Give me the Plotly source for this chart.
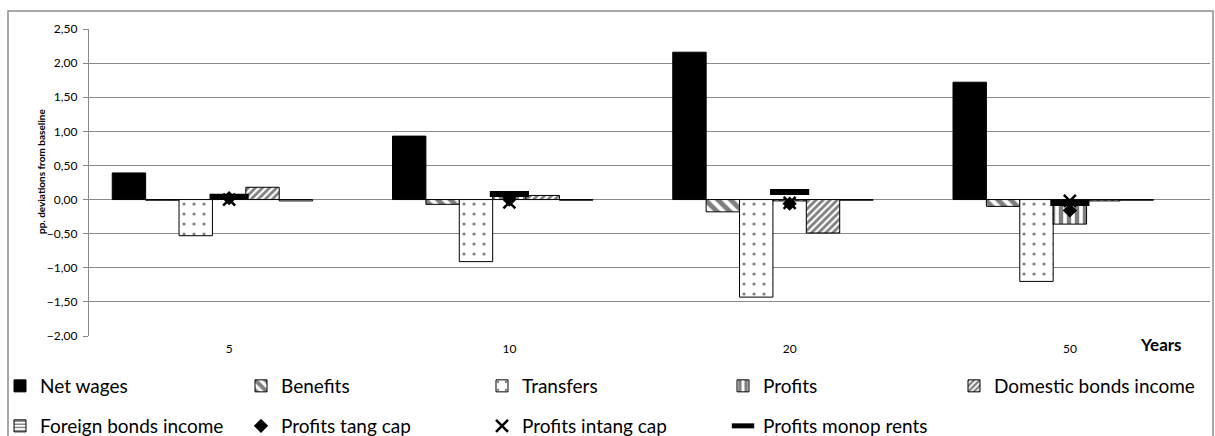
import plotly.graph_objects as go

# ---- data ----
years = ["5", "10", "20", "50"]
net_wages = [0.39, 0.93, 2.16, 1.72]
benefits = [-0.01, -0.07, -0.18, -0.10]
transfers = [-0.53, -0.91, -1.43, -1.20]
profits = [0.05, 0.10, -0.02, -0.36]
domestic_bonds = [0.18, 0.06, -0.49, -0.02]
foreign_bonds = [-0.02, -0.01, -0.01, -0.01]
empty_slot = [None, None, None, None]
profits_tang = [0.02, 0.00, -0.06, -0.16]
profits_intang = [0.00, -0.04, -0.05, -0.02]
profits_monop = [0.04, 0.08, 0.11, -0.05]

y_ticks = [2.5, 2.0, 1.5, 1.0, 0.5, 0.0, -0.5, -1.0, -1.5, -2.0]

# ---- geometry helpers (pixel layout of the 1215x436 canvas) ----
W, H = 1215, 436
L, R, T, B = 89, 5, 29, 100
PW, PH = W - L - R, H - T - B


def xp(px):
    return (px - L) / PW


def yp(py):
    return (H - B - py) / PH


def xc(px):
    return px / W


def yc(py):
    return 1 - py / H


FONT = "Lato"
GRID = "#8a8a8a"

fig = go.Figure()


def bar(name, vals, pattern=None, fill="white", legend="legend", show=True):
    mk = dict(color=fill, line=dict(color="black", width=1))
    if pattern:
        mk["pattern"] = dict(shape=pattern[0], size=pattern[1], solidity=pattern[2],
                             fgcolor="black", bgcolor="white", fillmode="overlay")
    fig.add_trace(go.Bar(x=years, y=vals, name=name, marker=mk,
                         legend=legend, showlegend=show))


bar("Net wages", net_wages, fill="black")
bar("Benefits", benefits, pattern=("\\", 9, 0.55))
bar("Transfers", transfers, pattern=(".", 10, 0.08))
bar("Profits", profits, pattern=("|", 8, 0.55))
bar("Domestic bonds income", domestic_bonds, pattern=("/", 5, 0.55), legend="legend3")
bar("Foreign bonds income", foreign_bonds, pattern=("-", 4, 0.45), legend="legend2")
bar("", empty_slot, show=False)

fig.add_trace(go.Scatter(x=years, y=profits_tang, mode="markers", name="Profits tang cap",
                         marker=dict(symbol="diamond", size=11, color="black"),
                         legend="legend2"))
fig.add_trace(go.Scatter(x=years, y=profits_intang, mode="markers", name="Profits intang cap",
                         marker=dict(symbol="x-thin", size=12, color="black",
                                     line=dict(color="black", width=2.5)),
                         legend="legend2"))
fig.add_trace(go.Scatter(x=years, y=profits_monop, mode="markers", name="Profits monop rents",
                         marker=dict(symbol="line-ew", size=28, color="black",
                                     line=dict(color="black", width=6)),
                         legend="legend2"))

legend_common = dict(orientation="h", entrywidth=196, entrywidthmode="pixels",
                     xref="container", yref="container",
                     xanchor="left", yanchor="middle",
                     font=dict(family=FONT, size=19, color="black"),
                     bgcolor="rgba(0,0,0,0)", itemwidth=30, traceorder="normal")

LEG_X = -14
COL_STEP = 242

fig.update_layout(
    width=W, height=H,
    margin=dict(l=L, r=R, t=T, b=B, pad=0, autoexpand=False),
    paper_bgcolor="white", plot_bgcolor="white",
    separators=",.",
    font=dict(family=FONT, color="black"),
    barmode="group", bargap=0.166, bargroupgap=0,
    xaxis=dict(type="category", range=[-0.5, 3.5], showgrid=False, zeroline=False,
               showline=False, ticks="", tickfont=dict(size=12, family=FONT),
               ticklabelstandoff=4, automargin=False),
    yaxis=dict(range=[-2.0, 2.5], tickvals=y_ticks, tickformat=".2f",
               showgrid=True, gridcolor=GRID, gridwidth=1.3,
               zeroline=True, zerolinecolor=GRID, zerolinewidth=1.3,
               showline=True, linecolor=GRID, linewidth=1.3,
               ticks="outside", ticklen=5, tickcolor=GRID, tickwidth=1.3,
               tickfont=dict(size=12, family=FONT), ticklabelstandoff=3,
               automargin=False),
    legend=dict(x=xc(LEG_X), y=yc(386), **legend_common),
    legend2=dict(x=xc(LEG_X), y=yc(426), **legend_common),
    legend3=dict(x=xc(LEG_X + 4 * COL_STEP), y=yc(386), **legend_common),
    showlegend=True,
    shapes=[dict(type="rect", xref="paper", yref="paper",
                 x0=xp(8), x1=xp(1213), y0=yp(470), y1=yp(11),
                 line=dict(color="#8c8c8c", width=1.5), fillcolor="rgba(0,0,0,0)",
                 layer="below")],
    annotations=[
        dict(text="<b>pp. deviations from baseline</b>", textangle=-90,
             xref="paper", yref="paper", x=xp(33), y=yp(172),
             showarrow=False, font=dict(size=10, family=FONT)),
        dict(text="<b>Years</b>", xref="paper", yref="paper", x=xp(1184), y=yp(357),
             showarrow=False, font=dict(size=17, family=FONT)),
    ],
)

fig.write_html("out.html", config={"displayModeBar": False},
               post_script="document.body.style.margin='0';document.body.style.overflow='hidden';")
